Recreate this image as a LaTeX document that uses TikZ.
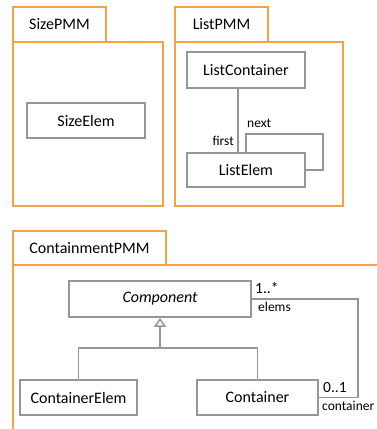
\documentclass[tikz,border=0pt]{standalone}
\usepackage{fontspec}
\setmainfont{Carlito}
\usetikzlibrary{arrows.meta}
\definecolor{pkgorange}{RGB}{248,162,72}
\definecolor{boxgray}{RGB}{150,150,150}
\tikzset{
  pkg/.style={draw=pkgorange,line width=1.8pt},
  pkgtab/.style={draw=pkgorange,line width=1.8pt,inner sep=0pt,font=\fontsize{16}{18}\selectfont},
  cls/.style={draw=boxgray,line width=1.8pt,fill=white,inner sep=0pt,font=\fontsize{16}{18}\selectfont},
  conn/.style={draw=boxgray,line width=1.8pt},
  lbl/.style={inner sep=0pt,font=\fontsize{13.5}{15}\selectfont},
  mult/.style={inner sep=0pt,font=\fontsize{15.5}{17}\selectfont},
}
\begin{document}
\begin{tikzpicture}[x=1pt,y=-1pt]
\useasboundingbox (0,0) rectangle (377,429);
% SizePMM
\node[pkgtab,minimum width=93pt,minimum height=35pt] (sizetab) at (59.5,24.5) {SizePMM};
\node[pkg,inner sep=0pt,minimum width=150pt,minimum height=164pt] (sizebody) at (88,124) {};
\node[cls,minimum width=118pt,minimum height=35pt] (se) at (86,120.5) {SizeElem};
% ListPMM
\node[pkgtab,minimum width=93pt,minimum height=35pt] (listtab) at (221.5,24.5) {ListPMM};
\node[pkg,inner sep=0pt,minimum width=168pt,minimum height=164pt] (listbody) at (259,124) {};
\node[cls,minimum width=118pt,minimum height=36pt] (lc) at (246,70) {ListContainer};
\node[cls,minimum width=118pt,minimum height=34pt] (le) at (246,170) {ListElem};
\draw[conn] ([xshift=-8pt]lc.south) -- ([xshift=-8pt]le.north);
\coordinate (lp) at (323,134);
\draw[conn] (le.north) |- (lp) |- (le.east);
\node[lbl,anchor=east] (first) at (234,141) {first};
\node[lbl,anchor=west] (next) at (247,123) {next};
% ContainmentPMM
\node[pkgtab,minimum width=153pt,minimum height=34pt] (conttab) at (89.5,248) {ContainmentPMM};
\coordinate (cbtl) at (13,265);
\coordinate (cbtr) at (378,265);
\coordinate (cbbl) at (13,430);
\draw[pkg] (cbtr) -- (cbtl) -- (cbbl);
\node[cls,minimum width=182pt,minimum height=36pt] (comp) at (160,299) {\itshape Component};
\node[cls,minimum width=117pt,minimum height=35pt] (ce) at (78.5,397.5) {ContainerElem};
\node[cls,minimum width=121pt,minimum height=35pt] (ct) at (257.5,397.5) {Container};
\coordinate (g) at (160,348);
\draw[conn] (ce.north) |- (g) -| (ct.north);
\draw[conn,-{Triangle[open,length=9pt,width=12pt,line width=1.5pt]}] (g) -- (comp.south);
\coordinate (ap) at (358,299);
\draw[conn] (comp.east) -- (ap) |- (ct.east);
\node[mult,anchor=west] (m1) at (255,288) {1..*};
\node[lbl,anchor=west] (elems) at (258,307) {elems};
\node[mult,anchor=west] (m2) at (323,388) {0..1};
\node[lbl,anchor=west] (contl) at (322,406) {container};
\end{tikzpicture}
\end{document}
